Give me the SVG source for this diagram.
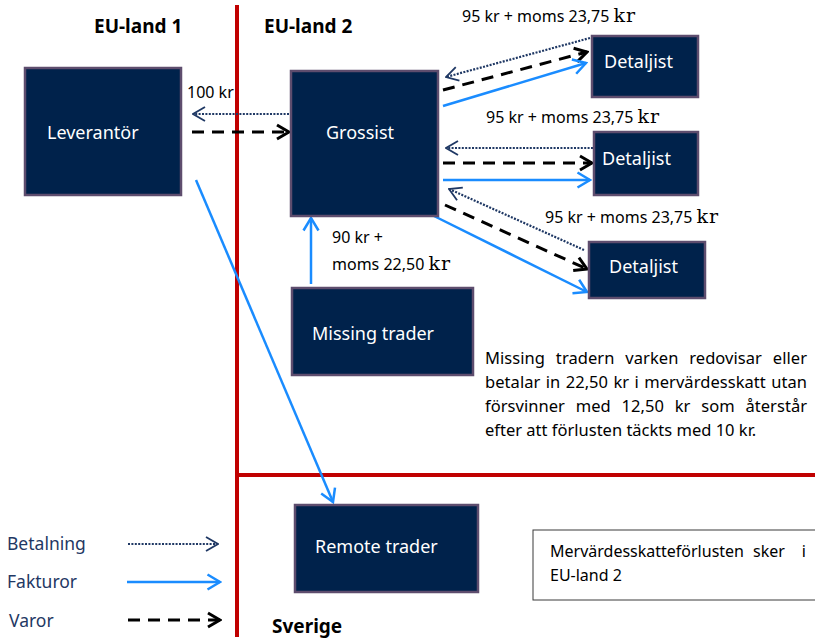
<svg xmlns="http://www.w3.org/2000/svg" width="815" height="639" viewBox="0 0 815 639">
  <style>
    .box { fill: #00224b; stroke: #5e4d6e; stroke-width: 2.5; }
    .lbl { font-family: "Noto Sans", "Open Sans", sans-serif; font-size: 18px; fill: #ffffff; }
    .hdr { font-family: "Noto Sans", "Open Sans", sans-serif; font-size: 19px; font-weight: bold; fill: #000000; }
    .amt { font-family: "Noto Sans", "Open Sans", sans-serif; font-size: 16px; fill: #000000; }
    .kr { font-family: "DejaVu Serif", "Liberation Serif", serif; font-size: 19px; letter-spacing: 1px; }
    .note { font-family: "Noto Sans", "Open Sans", sans-serif; font-size: 16.5px; fill: #000000; }
    .box-note { font-family: "Noto Sans", "Open Sans", sans-serif; font-size: 16px; fill: #000000; }
    .leg { font-family: "Noto Sans", "Open Sans", sans-serif; font-size: 17.5px; fill: #1f3864; }
    .pay { fill: none; stroke: #1f3864; stroke-width: 2.2; stroke-dasharray: 2 1.4; marker-end: url(#mPay); }
    .goods { fill: none; stroke: #000000; stroke-width: 3; stroke-dasharray: 12 8; marker-end: url(#mGoods); }
    .inv { fill: none; stroke: #1a8cff; stroke-width: 2.5; marker-end: url(#mInv); }
    .border { stroke: #c00000; stroke-width: 4; fill: none; }
  </style>
  <defs>
    <marker id="mPay" markerUnits="userSpaceOnUse" viewBox="0 0 14 16" refX="13" refY="8" markerWidth="14" markerHeight="16" orient="auto">
      <path d="M1,1 L13,8 L1,15" fill="none" stroke="#1f3864" stroke-width="1.8"/>
    </marker>
    <marker id="mGoods" markerUnits="userSpaceOnUse" viewBox="0 0 16 18" refX="14" refY="9" markerWidth="16" markerHeight="18" orient="auto">
      <path d="M2,2 L14,9 L2,16" fill="none" stroke="#000000" stroke-width="3"/>
    </marker>
    <marker id="mInv" markerUnits="userSpaceOnUse" viewBox="0 0 16 18" refX="14" refY="9" markerWidth="16" markerHeight="18" orient="auto">
      <path d="M1.5,1.5 L14,9 L1.5,16.5" fill="none" stroke="#1a8cff" stroke-width="2.5"/>
    </marker>
  </defs>

  <rect width="815" height="639" fill="#ffffff"/>

  <!-- Country borders -->
  <g id="borders">
    <line class="border" x1="237" y1="5" x2="237" y2="637"/>
    <line class="border" x1="239" y1="475" x2="815" y2="475"/>
  </g>

  <!-- Region headings -->
  <text class="hdr" x="94" y="33">EU-land 1</text>
  <text class="hdr" x="264" y="33">EU-land 2</text>
  <text class="hdr" x="272" y="633">Sverige</text>

  <!-- Flows -->
  <g id="connectors">
    <!-- Leverantör / Grossist -->
    <line class="pay" x1="289" y1="114" x2="193" y2="114"/>
    <line class="goods" x1="192" y1="132" x2="289" y2="132"/>
    <!-- Invoices -->
    <line class="inv" x1="196" y1="180" x2="333" y2="502"/>
    <line class="inv" x1="311" y1="284" x2="311" y2="218"/>
    <!-- Detaljist 1 -->
    <line class="pay" x1="590" y1="38" x2="446" y2="77"/>
    <line class="goods" x1="443" y1="90" x2="587" y2="52"/>
    <line class="inv" x1="443" y1="106" x2="586" y2="63"/>
    <!-- Detaljist 2 -->
    <line class="pay" x1="593" y1="148" x2="446" y2="148"/>
    <line class="goods" x1="443" y1="163" x2="592" y2="163"/>
    <line class="inv" x1="443" y1="180" x2="590" y2="180"/>
    <!-- Detaljist 3 -->
    <line class="pay" x1="584" y1="250" x2="449" y2="189"/>
    <line class="goods" x1="445" y1="205" x2="587" y2="269"/>
    <line class="inv" x1="434" y1="216" x2="587" y2="292"/>
    <!-- Legend samples -->
    <line class="pay" x1="128" y1="544" x2="218" y2="544"/>
    <line class="inv" x1="127" y1="582" x2="220" y2="582"/>
    <line class="goods" x1="128" y1="620" x2="220" y2="620"/>
  </g>

  <!-- Amounts -->
  <text class="amt" x="187" y="98">100 kr</text>
  <text class="amt" x="462" y="22">95 kr + moms 23,75 <tspan class="kr">kr</tspan></text>
  <text class="amt" x="486" y="123">95 kr + moms 23,75 <tspan class="kr">kr</tspan></text>
  <text class="amt" x="545" y="223">95 kr + moms 23,75 <tspan class="kr">kr</tspan></text>
  <text class="amt" x="332" y="243">90 kr +</text>
  <text class="amt" x="332" y="270">moms 22,50 <tspan class="kr">kr</tspan></text>

  <!-- Parties -->
  <g id="leverantor">
    <rect class="box" x="25" y="68" width="156" height="127"/>
    <text class="lbl" x="47" y="139">Leverantör</text>
  </g>
  <g id="grossist">
    <rect class="box" x="291" y="71" width="147" height="145"/>
    <text class="lbl" x="326" y="139">Grossist</text>
  </g>
  <g id="detaljist1">
    <rect class="box" x="592" y="36" width="106" height="61"/>
    <text class="lbl" x="604" y="68">Detaljist</text>
  </g>
  <g id="detaljist2">
    <rect class="box" x="594" y="132" width="104" height="63"/>
    <text class="lbl" x="602" y="165">Detaljist</text>
  </g>
  <g id="detaljist3">
    <rect class="box" x="589" y="242" width="116" height="56"/>
    <text class="lbl" x="609" y="273">Detaljist</text>
  </g>
  <g id="missing-trader">
    <rect class="box" x="292" y="288" width="181" height="87"/>
    <text class="lbl" x="312" y="340">Missing trader</text>
  </g>
  <g id="remote-trader">
    <rect class="box" x="295" y="505" width="183" height="87"/>
    <text class="lbl" x="315" y="553">Remote trader</text>
  </g>

  <!-- Explanation (justified lines) -->
  <g id="explanation">
    <text class="note" x="485" y="364" word-spacing="6.5" textLength="322" lengthAdjust="spacing">Missing tradern varken redovisar eller</text>
    <text class="note" x="485" y="388" word-spacing="1" textLength="322" lengthAdjust="spacing">betalar in 22,50 kr i mervärdesskatt utan</text>
    <text class="note" x="485" y="412" word-spacing="6.5" textLength="322" lengthAdjust="spacing">försvinner med 12,50 kr som återstår</text>
    <text class="note" x="485" y="436">efter att förlusten täckts med 10 kr.</text>
  </g>

  <g id="summary">
    <rect x="533" y="530" width="290" height="70" fill="#ffffff" stroke="#3a3a3a" stroke-width="1"/>
    <text class="box-note" y="557"><tspan x="550">Mervärdesskatteförlusten</tspan><tspan x="753">sker</tspan><tspan x="806" text-anchor="end">i</tspan></text>
    <text class="box-note" x="550" y="581">EU-land 2</text>
  </g>

  <!-- Legend -->
  <g id="legend">
    <text class="leg" x="7" y="550">Betalning</text>
    <text class="leg" x="7" y="588">Fakturor</text>
    <text class="leg" x="9" y="627">Varor</text>
  </g>
</svg>
